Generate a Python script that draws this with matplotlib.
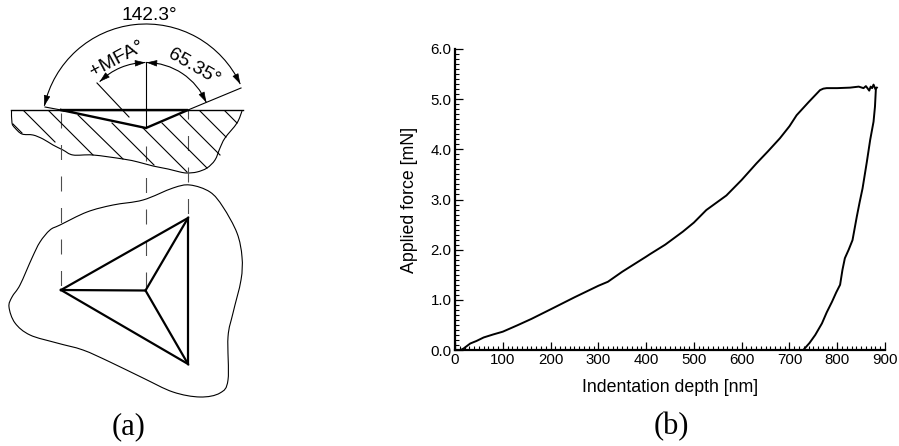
"""
Indenter schematic (a) and force vs. depth curve (b).
Schematic geometry is in image pixels (x right, y down); the curve is in nm / mN.
"""
from __future__ import annotations

import matplotlib

matplotlib.use("Agg")
import matplotlib.pyplot as plt
import matplotlib.ticker as mticker
import numpy as np
from matplotlib.patches import Arc, PathPatch
from matplotlib.path import Path

# panel (b)
LOAD_DEPTH = [12, 18, 25, 32, 45, 60, 80, 100, 130, 160, 200, 250, 300, 320, 350, 400, 408, 440, 477,
              500, 526, 568, 600, 631, 655, 680, 700, 715, 740, 764, 771, 778, 800, 827, 845, 855,
              860, 864, 867, 870, 873, 876, 880, 883]
LOAD_FORCE = [0.0, 0.03, 0.08, 0.13, 0.18, 0.25, 0.31, 0.365, 0.49, 0.62, 0.81, 1.05, 1.28, 1.36, 1.56,
              1.86, 1.91, 2.10, 2.36, 2.54, 2.79, 3.08, 3.39, 3.72, 3.96, 4.22, 4.46, 4.68, 4.94, 5.18,
              5.21, 5.22, 5.22, 5.23, 5.25, 5.22, 5.26, 5.21, 5.17, 5.25, 5.22, 5.29, 5.20, 5.23]
UNLOAD_DEPTH = [881, 879, 876, 869, 862, 853, 847, 841, 832, 824, 816, 811, 806, 798, 789, 778, 768,
                754, 742, 729]
UNLOAD_FORCE = [5.22, 4.85, 4.55, 4.19, 3.75, 3.22, 2.95, 2.66, 2.19, 2.00, 1.83, 1.60, 1.30, 1.15,
                0.96, 0.75, 0.53, 0.30, 0.14, 0.0]
X_TICKS = [0, 100, 200, 300, 400, 500, 600, 700, 800, 900]
Y_TICKS = [0.0, 1.0, 2.0, 3.0, 4.0, 5.0, 6.0]

# panel (a), top: cross section
SURFACE_X = [11, 243]
SURFACE_Y = [110, 110]
INDENT_X = [61, 146, 188, 61]
INDENT_Y = [110, 128, 110, 110]
SECTION_X = [11.5, 12, 15, 22, 33, 43, 53, 63, 73, 93, 123, 138, 153, 168, 180, 187, 197, 207, 215,
             220, 225, 237, 242]
SECTION_Y = [110, 123, 128, 134, 135, 139, 145, 150, 155, 155, 159, 162, 166, 169, 172, 173, 172,
             168, 160, 148, 138, 123, 111]
HATCH_SEGMENTS = [
    ((13, 124), (22, 133)),
    ((24, 111), (55, 142)),
    ((49, 111), (93, 155)),
    ((78, 115), (123, 159)),
    ((112, 123), (154, 165)),
    ((143, 128), (187, 172)),
    ((162, 123), (207, 168)),
    ((180, 115), (220, 155)),
    ((200, 111), (226, 137)),
    ((225, 111), (237, 123)),
]
# extension lines
LEADER_SEGMENTS = [
    ((45, 107), (61, 110)),
    ((188, 110), (241, 88)),
    ((146, 128), (146, 62)),
    ((97, 83), (129, 117)),
]
ARC_CENTER = (146, 128)
OUTER_ARC = (104, 192.3, 335)
INNER_LEFT_ARC = (65.5, 225, 269.5)
INNER_RIGHT_ARC = (65.5, 270.5, 337)

# panel (a), bottom: plan view
BLOB_X = [60, 50, 40, 32, 20, 12, 9, 15, 30, 57, 83, 110, 143, 173, 200, 220, 228, 228, 233, 241,
          242, 237, 223, 210, 190, 173, 143, 113, 87, 60]
BLOB_Y = [225, 230, 242, 258, 285, 297, 307, 323, 335, 343, 350, 362, 378, 392, 397, 393, 380, 337,
          313, 280, 257, 233, 207, 192, 185, 188, 200, 205, 212, 225]
TRIANGLE_X = [61, 188, 188, 61]
TRIANGLE_Y = [290, 218, 364, 290]
SPOKES = [((145.5, 290.5), (61, 290)), ((145.5, 290.5), (188, 218)), ((145.5, 290.5), (188, 364))]
# x, top, bottom, pixels of the dash pattern already used at the top
DASH_COLUMNS = [(61, 113, 290, 0), (145.5, 146, 290, 0), (188, 110, 218, 6)]
DASH_ON = 15
DASH_OFF = 16.5

W, H = 899, 446
SERIF = "Liberation Serif"
SANS = "Liberation Sans"


def arc_point(r: float, theta: float) -> tuple[float, float]:
    t = np.radians(theta)
    return ARC_CENTER[0] + r * np.cos(t), ARC_CENTER[1] + r * np.sin(t)


def smooth_outline(xs, ys) -> Path:
    # bezier segments through the listed outline points
    pts = np.column_stack([xs, ys]).astype(float)
    closed = np.allclose(pts[0], pts[-1])
    if closed:
        before = np.vstack([pts[-2], pts[:-1]])
        after = np.vstack([pts[1:], pts[1]])
    else:
        before = np.vstack([pts[0], pts[:-1]])
        after = np.vstack([pts[1:], pts[-1]])
    tangents = (after - before) / 6
    verts = [pts[0]]
    codes = [Path.MOVETO]
    for i in range(len(pts) - 1):
        verts += [pts[i] + tangents[i], pts[i + 1] - tangents[i + 1], pts[i + 1]]
        codes += [Path.CURVE4] * 3
    return Path(verts, codes)


def draw_arc(ax, spec, lw=0.8) -> None:
    r, t1, t2 = spec
    ax.add_patch(Arc(ARC_CENTER, 2 * r, 2 * r, theta1=t1, theta2=t2, color="black", lw=lw))
    # arrow heads at both ends, about 9 px long
    step = np.degrees(9 / r)
    for tip, tail in ((t1, t1 + step), (t2, t2 - step)):
        ax.annotate(
            "",
            xy=arc_point(r, tip),
            xytext=arc_point(r, tail),
            arrowprops=dict(
                arrowstyle="-|>,head_length=0.65,head_width=0.2",
                color="black",
                lw=0.5,
                shrinkA=0,
                shrinkB=0,
                mutation_scale=10,
            ),
        )


def draw_schematic(ax) -> None:
    ax.set_xlim(0, W)
    ax.set_ylim(H, 0)
    ax.axis("off")

    # dash lengths are given in line widths, 0.8 pt = 1.11 px here
    px = 1 / (0.8 * 100 / 72)
    for x, y0, y1, offset in DASH_COLUMNS:
        ax.plot(
            [x, x],
            [y0, y1],
            color="0.3",
            lw=0.8,
            linestyle=(offset * px, (DASH_ON * px, DASH_OFF * px)),
        )

    ax.add_patch(PathPatch(smooth_outline(SECTION_X, SECTION_Y), fill=False, color="black", lw=0.8))
    for a, b in HATCH_SEGMENTS:
        ax.plot([a[0], b[0]], [a[1], b[1]], color="black", lw=0.8)
    for a, b in LEADER_SEGMENTS:
        ax.plot([a[0], b[0]], [a[1], b[1]], color="black", lw=0.8)
    ax.plot(SURFACE_X, SURFACE_Y, color="black", lw=1.0)
    ax.plot(INDENT_X, INDENT_Y, color="black", lw=1.7, solid_joinstyle="miter")

    draw_arc(ax, OUTER_ARC)
    draw_arc(ax, INNER_LEFT_ARC)
    draw_arc(ax, INNER_RIGHT_ARC)

    ax.add_patch(PathPatch(smooth_outline(BLOB_X, BLOB_Y), fill=False, color="black", lw=0.8))
    ax.plot(TRIANGLE_X, TRIANGLE_Y, color="black", lw=1.6, solid_joinstyle="miter")
    for a, b in SPOKES:
        ax.plot([a[0], b[0]], [a[1], b[1]], color="black", lw=1.6)

    ax.text(149, 16, "142.3°", family=SANS, fontsize=13.8, ha="center", va="center")
    ax.text(117, 59, "+MFA°", family=SANS, fontsize=14, ha="center", va="center", rotation=28)
    ax.text(193.5, 67, "65.35°", family=SANS, fontsize=14, ha="center", va="center", rotation=-30)
    ax.text(128.5, 427, "(a)", family=SERIF, fontsize=22, ha="center", va="center")
    ax.text(671, 427, "(b)", family=SERIF, fontsize=22, ha="center", va="center")


def draw_curve(fig) -> None:
    ax = fig.add_axes([455 / W, (H - 350) / H, 430 / W, 301 / H])
    ax.patch.set_alpha(0)
    ax.plot(LOAD_DEPTH, LOAD_FORCE, color="black", lw=1.4)
    ax.plot(UNLOAD_DEPTH, UNLOAD_FORCE, color="black", lw=1.4)

    ax.set_xlim(0, 900)
    ax.set_ylim(0, 6)
    ax.set_xticks(X_TICKS)
    ax.set_yticks(Y_TICKS)
    ax.set_yticklabels([f"{v:.1f}" for v in Y_TICKS])
    ax.xaxis.set_minor_locator(mticker.MultipleLocator(10))
    ax.yaxis.set_minor_locator(mticker.MultipleLocator(0.1))
    ax.tick_params(which="major", direction="in", length=6, width=0.9, labelsize=10.8, pad=2.5)
    ax.tick_params(which="minor", direction="in", length=2.8, width=0.8)

    for side in ("top", "right"):
        ax.spines[side].set_visible(False)
    for side in ("left", "bottom"):
        ax.spines[side].set_linewidth(1.6)

    ax.set_xlabel("Indentation depth [nm]", fontsize=12.8, labelpad=8)
    ax.set_ylabel("Applied force [mN]", fontsize=12.8, labelpad=9)


def main() -> None:
    plt.rcParams["font.family"] = [SANS, "DejaVu Sans"]
    fig = plt.figure(figsize=(W / 100, H / 100), dpi=100)
    overlay = fig.add_axes([0, 0, 1, 1])
    draw_schematic(overlay)
    draw_curve(fig)
    fig.savefig("out.png", dpi=100)
    plt.close(fig)


if __name__ == "__main__":
    main()
